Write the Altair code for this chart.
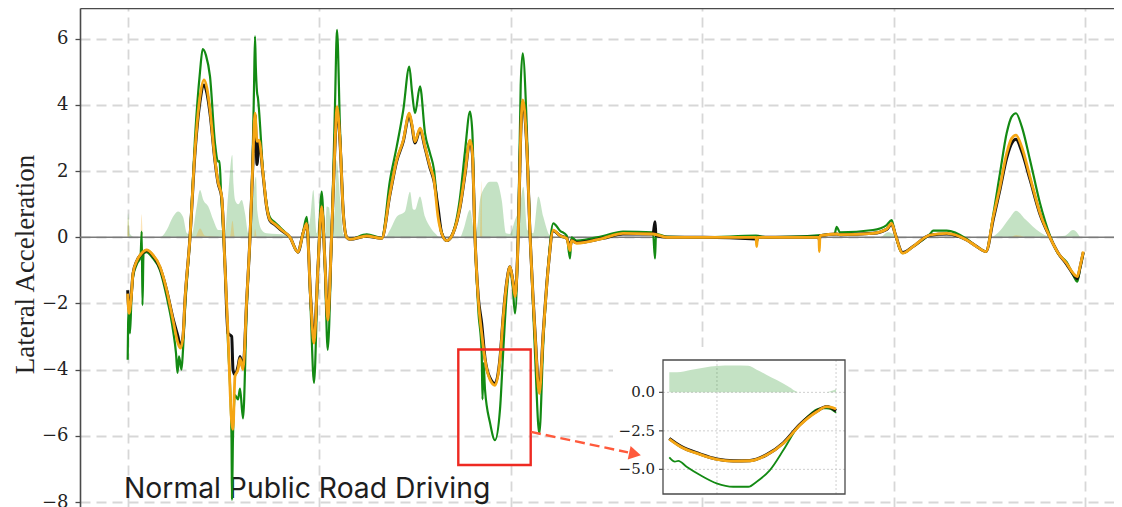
import altair as alt
import pandas as pd

# ---------------- data (x = time step, y = lateral acceleration) ----------------
GRID_X = [0, 191.5, 383, 574.5, 766, 957.5]
Y_TICKS = [-8, -6, -4, -2, 0, 2, 4, 6]
CAPTION = "Normal Public Road Driving"

ORANGE_LINE = [
    (0.2, -1.7), (1.5, -2.3), (3.5, -1.9), (5.5, -1.1), (9.5, -0.7), (14.2, -0.48), (19.2, -0.38),
    (24.5, -0.5), (32.5, -0.89), (39.2, -1.6), (45.5, -2.5), (50.5, -3.2), (53, -3.35), (55.5, -3.0),
    (57.5, -1.9), (62.5, 0.0), (67.5, 2.64), (72.5, 4.25), (76.5, 4.76), (79.5, 4.5), (82.5, 3.85),
    (87.5, 2.34), (90.5, 1.68), (94.2, 1.23), (97.5, -0.89), (100.5, -2.9), (104.2, -5.6), (105.5, -5.8),
    (107.5, -4.2), (110.5, -4.0), (112.5, -3.66), (115.5, -4.0), (119.2, -1.9), (122.5, 0.0), (125.2, 2.14),
    (127.5, 3.75), (129.5, 2.9), (131.5, 2.94), (135.5, 1.94), (139.2, 0.93), (142.5, 0.52), (147.5, 0.40),
    (154.2, 0.22), (162.5, 0.0), (170.5, -0.45), (175.5, 0.12), (179.2, 0.42), (183.2, -1.9), (186.5, -3.2),
    (190.5, -0.89), (194.2, 0.93), (197.5, -0.8), (200.2, -2.5), (204.2, 0.12), (207.5, 2.84), (209.5, 3.95),
    (212.5, 2.94), (215.8, 0.73), (219.2, 0.0), (222.5, -0.06), (239.2, 0.04), (254.2, -0.03), (262.5, 1.33),
    (269.2, 2.34), (275.8, 2.94), (281.8, 3.75), (284.5, 3.4), (287.5, 2.89), (292.5, 3.3), (297.5, 2.74),
    (302.5, 2.14), (306.5, 1.73), (310.5, 0.63), (314.2, 0.12), (319.2, -0.1), (325.5, 0.12), (332.5, 0.93),
    (337.5, 1.94), (342.5, 2.94), (344.8, 2.6), (347.5, 0.0), (350.8, -1.9), (354.2, -2.9), (357.5, -3.7),
    (362.5, -4.3), (367.5, -4.47), (372.5, -3.7), (375.8, -2.4), (379.2, -1.39), (382.5, -0.89), (385.2, -1.3),
    (387.5, -1.79), (390.8, 0.12), (393.2, 3.15), (395.2, 4.15), (399.2, 2.84), (402.5, 0.12), (407.5, -2.9),
    (411.8, -4.72), (415.8, -2.9), (420.8, -0.89), (425.8, 0.22), (432.5, 0.05), (439.2, -0.03), (442.5, -0.4),
    (444.0, -0.1), (449.2, -0.18), (475.5, -0.03), (495.5, 0.12), (525.5, 0.1), (539.5, 0.0), (575.5, 0.0),
    (628.5, 0.0), (629.2, -0.28), (630.0, 0.0), (691.5, 0.0), (691.8, -0.43), (692.5, 0.05), (709.2, 0.1),
    (712.5, 0.08), (745.5, 0.12), (759.2, 0.25), (764.2, 0.42), (767.5, 0.12), (775.2, -0.48), (785.5, -0.28),
    (802.5, 0.07), (819.2, 0.12), (839.2, -0.08), (849.2, -0.28), (858.5, -0.43), (865.8, 0.62), (872.5, 1.53),
    (879.2, 2.54), (884.2, 2.99), (888.5, 3.09), (894.2, 2.74), (902.5, 1.83), (912.5, 0.73), (922.5, 0.0),
    (930.8, -0.48), (939.2, -0.79), (945.8, -1.09), (949.8, -1.19), (952.5, -0.89), (955.8, -0.43),
]

BLACK_LINE = [
    (0.2, -1.6), (1.5, -2.2), (3.5, -1.85), (5.5, -1.1), (9.5, -0.7), (14.2, -0.5), (19.2, -0.4),
    (24.5, -0.52), (32.5, -0.92), (39.2, -1.6), (45.5, -2.45), (50.5, -3.0), (53, -3.3), (55.5, -3.0),
    (57.5, -1.9), (62.5, 0.0), (67.5, 2.55), (72.5, 4.1), (76.5, 4.6), (79.5, 4.35), (82.5, 3.75),
    (87.5, 2.3), (90.5, 1.65), (94.2, 1.2), (97.5, -0.85), (100.5, -2.9), (104.2, -3.0), (105.5, -4.0),
    (107.5, -4.15), (110.5, -3.9), (112.5, -3.6), (115.5, -3.95), (119.2, -1.9), (122.5, 0.0), (125.2, 2.1),
    (127.5, 3.7), (129.5, 2.2), (131.5, 2.9), (135.5, 1.9), (139.2, 0.9), (142.5, 0.5), (147.5, 0.38),
    (154.2, 0.2), (162.5, 0.0), (170.5, -0.45), (175.5, 0.12), (179.2, 0.4), (183.2, -1.85), (186.5, -3.1),
    (190.5, -0.89), (194.2, 0.9), (197.5, -0.8), (200.2, -2.45), (204.2, 0.12), (207.5, 2.8), (209.5, 3.9),
    (212.5, 2.9), (215.8, 0.73), (219.2, 0.0), (222.5, -0.06), (239.2, 0.03), (254.2, -0.03), (262.5, 1.3),
    (269.2, 2.3), (275.8, 2.9), (281.8, 3.7), (284.5, 3.35), (287.5, 2.85), (292.5, 3.25), (297.5, 2.7),
    (302.5, 2.1), (306.5, 1.7), (310.5, 0.9), (314.2, 0.12), (319.2, -0.1), (325.5, 0.12), (332.5, 0.9),
    (337.5, 1.9), (342.5, 2.9), (344.8, 2.55), (347.5, 0.0), (350.8, -1.8), (354.2, -2.6), (357.5, -3.65),
    (362.5, -4.25), (367.5, -4.42), (372.5, -3.65), (375.8, -2.35), (379.2, -1.35), (382.5, -0.89), (385.2, -1.28),
    (387.5, -1.75), (390.8, 0.12), (393.2, 3.1), (395.2, 4.1), (399.2, 2.8), (402.5, 0.12), (407.5, -2.85),
    (411.8, -4.65), (415.8, -2.85), (420.8, -0.89), (425.8, 0.2), (432.5, 0.05), (439.2, -0.03), (442.5, -0.3),
    (444.0, -0.1), (449.2, -0.16), (475.5, -0.03), (495.5, 0.1), (525.5, 0.1), (527.5, 0.47), (528.5, 0.05),
    (539.5, 0.0), (575.5, 0.0), (628.5, -0.05), (629.2, -0.12), (630.0, 0.0), (691.5, 0.0), (691.8, -0.1),
    (692.5, 0.05), (709.2, 0.1), (712.5, 0.08), (745.5, 0.12), (759.2, 0.24), (764.2, 0.4), (767.5, 0.12),
    (775.2, -0.46), (785.5, -0.28), (802.5, 0.06), (819.2, 0.1), (839.2, -0.08), (849.2, -0.28), (858.5, -0.43),
    (865.8, 0.55), (872.5, 1.45), (879.2, 2.4), (884.2, 2.84), (888.5, 2.96), (894.2, 2.6), (902.5, 1.75),
    (912.5, 0.7), (922.5, 0.0), (930.8, -0.48), (939.2, -0.82), (945.8, -1.12), (949.8, -1.25), (952.5, -0.92),
    (955.8, -0.45),
]

GREEN_LINE = [
    (0.2, -3.7), (1.0, -2.2), (2.5, -2.9), (4.0, -1.8), (5.5, -1.2), (9.5, -0.8), (13.0, -0.6), (14.2, 0.17),
    (15.0, -2.05), (16.0, -0.5), (19.2, -0.45), (24.5, -0.6), (32.5, -1.0), (39.2, -1.8), (45.5, -2.8),
    (48.5, -3.5), (50.0, -4.1), (51.5, -3.6), (54.0, -4.0), (55.5, -3.4), (57.5, -2.2), (62.5, 0.0), (67.5, 3.0),
    (72.5, 5.0), (75.2, 5.69), (78.5, 5.5), (82.5, 4.86), (87.5, 2.84), (90.5, 2.29), (92.0, 2.3), (93.5, 1.4),
    (97.5, -0.89), (100.5, -3.2), (104.0, -6.0), (104.5, -7.94), (105.5, -6.0), (107.5, -4.77), (110.5, -4.9),
    (112.5, -4.57), (115.5, -5.47), (119.2, -2.2), (122.5, 0.0), (125.2, 2.5), (126.5, 4.5), (127.5, 6.07),
    (128.3, 5.16), (129.5, 4.4), (130.5, 4.2), (131.5, 3.85), (135.5, 2.0), (139.2, 1.0), (142.5, 0.6),
    (147.5, 0.45), (154.2, 0.25), (162.5, 0.0), (170.5, -0.45), (175.5, 0.15), (179.2, 0.62), (183.2, -2.2),
    (186.5, -4.4), (190.5, -0.89), (194.2, 1.38), (197.5, -1.0), (200.2, -3.4), (204.2, 0.12), (207.5, 4.0),
    (209.5, 6.27), (212.5, 3.3), (215.8, 0.8), (219.2, 0.0), (222.5, -0.05), (239.2, 0.09), (254.2, -0.02),
    (262.5, 1.73), (269.2, 2.74), (275.8, 3.85), (281.8, 5.16), (284.5, 4.4), (287.5, 3.75), (292.5, 4.56),
    (297.5, 3.15), (302.5, 2.54), (306.5, 2.04), (310.5, 0.8), (314.2, 0.15), (319.2, -0.1), (325.5, 0.15),
    (332.5, 1.2), (337.5, 2.6), (342.5, 3.8), (344.8, 3.2), (347.5, 0.0), (350.8, -2.2), (354.2, -3.5),
    (355.0, -4.9), (356.0, -3.8), (357.5, -4.6), (362.5, -5.6), (367.5, -6.13), (372.5, -5.2), (375.8, -3.4),
    (379.2, -1.7), (382.5, -0.95), (385.2, -1.5), (387.5, -2.3), (390.8, 0.3), (393.2, 4.6), (395.2, 5.56),
    (399.2, 3.4), (402.5, 0.12), (407.5, -3.5), (411.8, -5.93), (415.8, -3.2), (420.8, -0.8), (425.8, 0.42),
    (432.5, 0.2), (439.2, 0.05), (442.5, -0.64), (444.0, 0.0), (449.2, -0.1), (475.5, 0.04), (495.5, 0.17),
    (525.5, 0.15), (527.5, -0.64), (528.5, 0.1), (539.5, 0.02), (575.5, 0.0), (628.5, 0.05), (640.0, 0.0),
    (707.0, 0.1), (709.2, 0.32), (712.5, 0.15), (745.5, 0.22), (759.2, 0.37), (764.2, 0.52), (767.5, 0.12),
    (775.2, -0.48), (785.5, -0.28), (802.5, 0.1), (805.8, 0.2), (819.2, 0.2), (839.2, -0.05), (849.2, -0.28),
    (858.5, -0.43), (865.8, 0.7), (872.5, 1.94), (879.2, 3.15), (884.2, 3.65), (888.5, 3.75), (894.2, 3.35),
    (902.5, 2.34), (912.5, 1.03), (922.5, 0.05), (930.8, -0.5), (939.2, -0.75), (945.8, -1.15), (949.8, -1.34),
    (952.5, -0.95), (955.8, -0.48),
]

GREEN_ERR = [
    (0.0, 0.0), (0.5, 0.73), (2.5, 0.1), (7.5, 0.0), (32.5, 0.0), (39.2, 0.22), (45.5, 0.62), (50.5, 0.78),
    (55.5, 0.62), (59.5, 0.12), (64.2, 0.07), (69.2, 0.93), (72.5, 1.43), (75.8, 1.13), (80.8, 0.93),
    (85.8, 0.52), (90.8, 0.22), (97.5, 0.22), (100.5, 1.23), (104.7, 2.49), (106.0, 1.6), (107.5, 1.13),
    (110.8, 1.0), (114.2, 1.13), (117.5, 0.73), (120.8, 0.12), (125.8, 1.33), (128.5, 1.83), (129.8, 0.8),
    (134.2, 0.22), (139.2, 0.12), (159.2, 0.07), (167.5, 0.0), (177.5, 0.1), (182.5, 0.5), (185.8, 1.43),
    (189.2, 0.12), (194.2, 1.13), (197.5, 0.1), (199.2, 0.93), (201.5, 0.9), (204.2, 0.1), (207.5, 1.0),
    (209.2, 2.34), (212.5, 1.2), (215.8, 0.1), (222.5, 0.0), (257.5, 0.0), (262.5, 0.22), (269.2, 0.62),
    (277.5, 0.78), (282.5, 1.38), (285.5, 0.85), (287.5, 0.83), (292.5, 1.23), (297.5, 0.62), (302.5, 0.32),
    (307.5, 0.12), (312.5, 0.0), (332.5, 0.0), (335.8, 0.22), (342.5, 0.83), (347.5, 0.07), (350.5, 0.5),
    (352.5, 1.13), (357.5, 1.53), (362.5, 1.68), (369.2, 1.68), (374.2, 1.13), (378.5, 0.12), (382.5, 0.1),
    (387.5, 0.52), (392.5, 0.93), (395.8, 1.53), (399.8, 0.22), (405.8, 0.12), (410.8, 1.23), (415.8, 0.62),
    (422.5, 0.05), (427.5, 0.0), (752.5, 0.0), (760.5, 0.15), (765.5, 0.1), (769.5, 0.0), (862.5, 0.0),
    (872.5, 0.2), (882.5, 0.6), (888.5, 0.8), (897.5, 0.55), (912.5, 0.15), (922.5, 0.02), (937.5, 0.05),
    (945.5, 0.22), (950.5, 0.1), (952.5, 0.0),
]

ORANGE_ERR = [
    (0.0, 0.0), (0.5, 0.6), (2.0, 0.0), (13.0, 0.0), (14.0, 0.7), (15.5, 0.0), (67.5, 0.0), (72.5, 0.27),
    (77.5, 0.05), (102.5, 0.0), (105.0, 0.5), (107.5, 0.0), (126.5, 0.0), (127.5, 0.25), (129.5, 0.0),
    (352.5, 0.0), (353.8, 1.7), (355.0, 0.0), (882.5, 0.0), (888.5, 0.06), (897.5, 0.0),
]

# zoom box, arrow and caption (main axes units)
RED_BOX = [(330.8, 403.2, -3.39, -6.88)]
ARROW_LINE = [(403.5, -5.88), (500.5, -6.50)]
ARROW_HEAD = [(507.5, -6.55)]
CAPTION_AT = [(-3.5, -7.88)]

# inset (zoomed window, its own units)
INSET_GREEN_ERR = [
    (-0.4, 1.30), (4, 1.3), (14, 1.49), (28, 1.71), (38, 1.74), (47.2, 1.73), (52.2, 1.47), (58, 1.15),
    (64.3, 0.8), (71, 0.4), (78.3, 0.0), (94.4, 0.0), (97, 0.08), (100, 0.2),
]
INSET_ORANGE = [
    (-0.4, -3.03), (6.4, -3.53), (18.1, -4.03), (28.1, -4.35), (38.1, -4.46), (48.2, -4.44), (58.2, -4.07),
    (68.3, -3.31), (78.3, -2.12), (88.4, -1.26), (94.4, -0.93), (100, -1.08),
]
INSET_BLACK = [
    (-0.4, -3.0), (6.4, -3.5), (18.1, -4.0), (28.1, -4.33), (38.1, -4.45), (48.2, -4.43), (58.2, -4.05),
    (68.3, -3.28), (78.3, -2.08), (88.4, -1.22), (94.4, -0.92), (100, -1.2),
]
INSET_GREEN = [
    (-0.4, -4.22), (3, -4.5), (5, -4.45), (10, -4.83), (18.1, -5.37), (28.1, -5.91), (38.1, -6.13),
    (47.2, -6.13), (52.2, -5.8), (60.2, -5.05), (68.3, -3.75), (76.3, -2.34), (82.3, -1.63), (90.4, -1.04),
    (94.4, -1.04), (97, -1.1), (100, -1.32),
]
INSET_X_DOMAIN = [-4.2, 105.4]
INSET_Y_DOMAIN = [-6.6, 2.1]
INSET_BG = [(-34.3, 107.2, 2.94, -6.8)]
INSET_Y_TICKS = [0.0, -2.5, -5.0]
INSET_Y_LABELS = ["0.0", "\u22122.5", "\u22125.0"]
INSET_X_GRID = [28.3, 100]

# ---------------- styling ----------------
W, H = 1034, 499
GREEN, ORANGE, BLACK, RED = "#138a13", "#f5a614", "#111111", "#ee2a22"
GRIDC = "#d7d7d7"
X_DOMAIN = [-47.5, 986.5]
Y_DOMAIN = [-8.15, 6.93]


def tv(pairs):
    return pd.DataFrame(pairs, columns=["t", "v"])


XS = alt.Scale(domain=X_DOMAIN, nice=False, zero=False)
YS = alt.Scale(domain=Y_DOMAIN, nice=False, zero=False)
XA = alt.Axis(orient="top", values=GRID_X, labels=False, ticks=False, domain=True,
              domainColor="#4a4a4a", domainWidth=1.6, title=None,
              grid=True, gridColor=GRIDC, gridDash=[10, 6], gridWidth=1.8)
YA = alt.Axis(orient="left", values=Y_TICKS, labelExpr="replace(datum.label, '-', '\u2212')",
              labelFont="DejaVu Serif", labelFontSize=18, labelColor="#222222", labelPadding=7,
              tickSize=5, tickColor="#4a4a4a", tickWidth=1.3,
              domain=True, domainColor="#4a4a4a", domainWidth=1.6,
              grid=True, gridColor=GRIDC, gridDash=[10, 6], gridWidth=1.8,
              title="Lateral Acceleration", titleFont="Liberation Serif", titleFontSize=27,
              titleFontWeight="normal", titleColor="#222222", titleAngle=270,
              titleX=-47, titleY=256, titleAlign="center", titleBaseline="alphabetic")


def mx(f="t"):
    return alt.X(f"{f}:Q", scale=XS, axis=XA)


def my(f="v"):
    return alt.Y(f"{f}:Q", scale=YS, axis=YA)


green_err = alt.Chart(tv(GREEN_ERR)).mark_area(color=GREEN, opacity=0.25, interpolate="monotone", clip=True).encode(x=mx(), y=my())
orange_err = alt.Chart(tv(ORANGE_ERR)).mark_area(color=ORANGE, opacity=0.3, interpolate="monotone", clip=True).encode(x=mx(), y=my())
zero = alt.Chart(pd.DataFrame({"v": [0]})).mark_rule(color="#7a7a7a", strokeWidth=1.5).encode(y=my())
caption = alt.Chart(pd.DataFrame({"t": [CAPTION_AT[0][0]], "v": [CAPTION_AT[0][1]], "s": [CAPTION]})).mark_text(
    align="left", baseline="alphabetic", font="Inter", fontSize=28.3, color="#1e1e1e").encode(x=mx(), y=my(), text="s:N")
green_line = alt.Chart(tv(GREEN_LINE)).mark_line(color=GREEN, strokeWidth=2.2, interpolate="monotone", clip=True).encode(x=mx(), y=my())
black_line = alt.Chart(tv(BLACK_LINE)).mark_line(color=BLACK, strokeWidth=3.0, interpolate="monotone", clip=True).encode(x=mx(), y=my())
orange_line = alt.Chart(tv(ORANGE_LINE)).mark_line(color=ORANGE, strokeWidth=2.8, interpolate="monotone", clip=True).encode(x=mx(), y=my())
box = alt.Chart(pd.DataFrame(RED_BOX, columns=["t", "t2", "v", "v2"])).mark_rect(
    fillOpacity=0, stroke=RED, strokeWidth=2.4).encode(x=mx(), x2="t2:Q", y=my(), y2="v2:Q")

main = alt.layer(green_err, orange_err, zero, caption, green_line, black_line, orange_line, box)

# ---------------- inset ----------------
XI = alt.Scale(domain=INSET_X_DOMAIN, range=[583, 765], nice=False, zero=False)
YI = alt.Scale(domain=INSET_Y_DOMAIN, range=[486, 352], nice=False, zero=False)


def ix(f="t"):
    return alt.X(f"{f}:Q", scale=XI, axis=None)


def iy(f="v"):
    return alt.Y(f"{f}:Q", scale=YI, axis=None)


bg = alt.Chart(pd.DataFrame(INSET_BG, columns=["t", "t2", "v", "v2"])).mark_rect(
    fill="white", strokeOpacity=0).encode(x=ix(), x2="t2:Q", y=iy(), y2="v2:Q")
hgrid = alt.Chart(pd.DataFrame({"v": INSET_Y_TICKS, "t": INSET_X_DOMAIN[0], "t2": INSET_X_DOMAIN[1]})).mark_rule(
    color="#cfcfcf", strokeWidth=1, strokeDash=[2, 2]).encode(x=ix(), x2="t2:Q", y=iy())
vgrid = alt.Chart(pd.DataFrame({"t": INSET_X_GRID, "v": INSET_Y_DOMAIN[0], "v2": INSET_Y_DOMAIN[1]})).mark_rule(
    color="#cfcfcf", strokeWidth=1, strokeDash=[2, 2]).encode(x=ix(), y=iy(), y2="v2:Q")
i_err = alt.Chart(tv(INSET_GREEN_ERR)).mark_area(color=GREEN, opacity=0.25, interpolate="monotone").encode(x=ix(), y=iy())
i_green = alt.Chart(tv(INSET_GREEN)).mark_line(color=GREEN, strokeWidth=1.8, interpolate="monotone").encode(x=ix(), y=iy())
i_black = alt.Chart(tv(INSET_BLACK)).mark_line(color=BLACK, strokeWidth=3.2, interpolate="monotone").encode(x=ix(), y=iy())
i_orange = alt.Chart(tv(INSET_ORANGE)).mark_line(color=ORANGE, strokeWidth=2.8, interpolate="monotone").encode(x=ix(), y=iy())
frame = alt.Chart(pd.DataFrame({"t": [INSET_X_DOMAIN[0]], "t2": [INSET_X_DOMAIN[1]],
                                "v": [INSET_Y_DOMAIN[0]], "v2": [INSET_Y_DOMAIN[1]]})).mark_rect(
    fillOpacity=0, stroke="#4a4a4a", strokeWidth=1.3).encode(x=ix(), x2="t2:Q", y=iy(), y2="v2:Q")
tick_df = pd.DataFrame({"v": INSET_Y_TICKS, "s": INSET_Y_LABELS, "t": INSET_X_DOMAIN[0]})
i_ticks = alt.Chart(tick_df).mark_rule(color="#4a4a4a", strokeWidth=1.2, x2Offset=-4).encode(x=ix(), x2="t:Q", y=iy())
i_labels = alt.Chart(tick_df).mark_text(align="right", baseline="middle", dx=-8, font="DejaVu Serif",
                                         fontSize=15, color="#222222").encode(x=ix(), y=iy(), text="s:N")

inset = alt.layer(bg, hgrid, vgrid, i_err, i_green, i_black, i_orange, frame, i_ticks, i_labels)

# ---------------- arrow (drawn on top, same units as main axes) ----------------
XO = alt.Scale(domain=X_DOMAIN, nice=False, zero=False)
YO = alt.Scale(domain=Y_DOMAIN, nice=False, zero=False)
arrow_line = alt.Chart(tv(ARROW_LINE)).mark_line(color="#ff5a3c", strokeWidth=2.4, strokeDash=[10, 5]).encode(
    x=alt.X("t:Q", scale=XO, axis=None), y=alt.Y("v:Q", scale=YO, axis=None))
arrow_head = alt.Chart(tv(ARROW_HEAD)).mark_point(shape="triangle-right", filled=True, size=190, angle=12,
                                                   color="#ff5a3c", opacity=1).encode(
    x=alt.X("t:Q", scale=XO, axis=None), y=alt.Y("v:Q", scale=YO, axis=None))
overlay = alt.layer(arrow_line, arrow_head)

chart = alt.layer(main, inset, overlay).resolve_scale(x="independent", y="independent").properties(
    width=W, height=H,
    padding={"left": 72, "top": 0, "right": 0, "bottom": 0},
    autosize=alt.AutoSizeParams(type="none"),
    background="white",
).configure_view(stroke=None)

chart.save("out.html", embed_options={"renderer": "svg", "actions": False})
